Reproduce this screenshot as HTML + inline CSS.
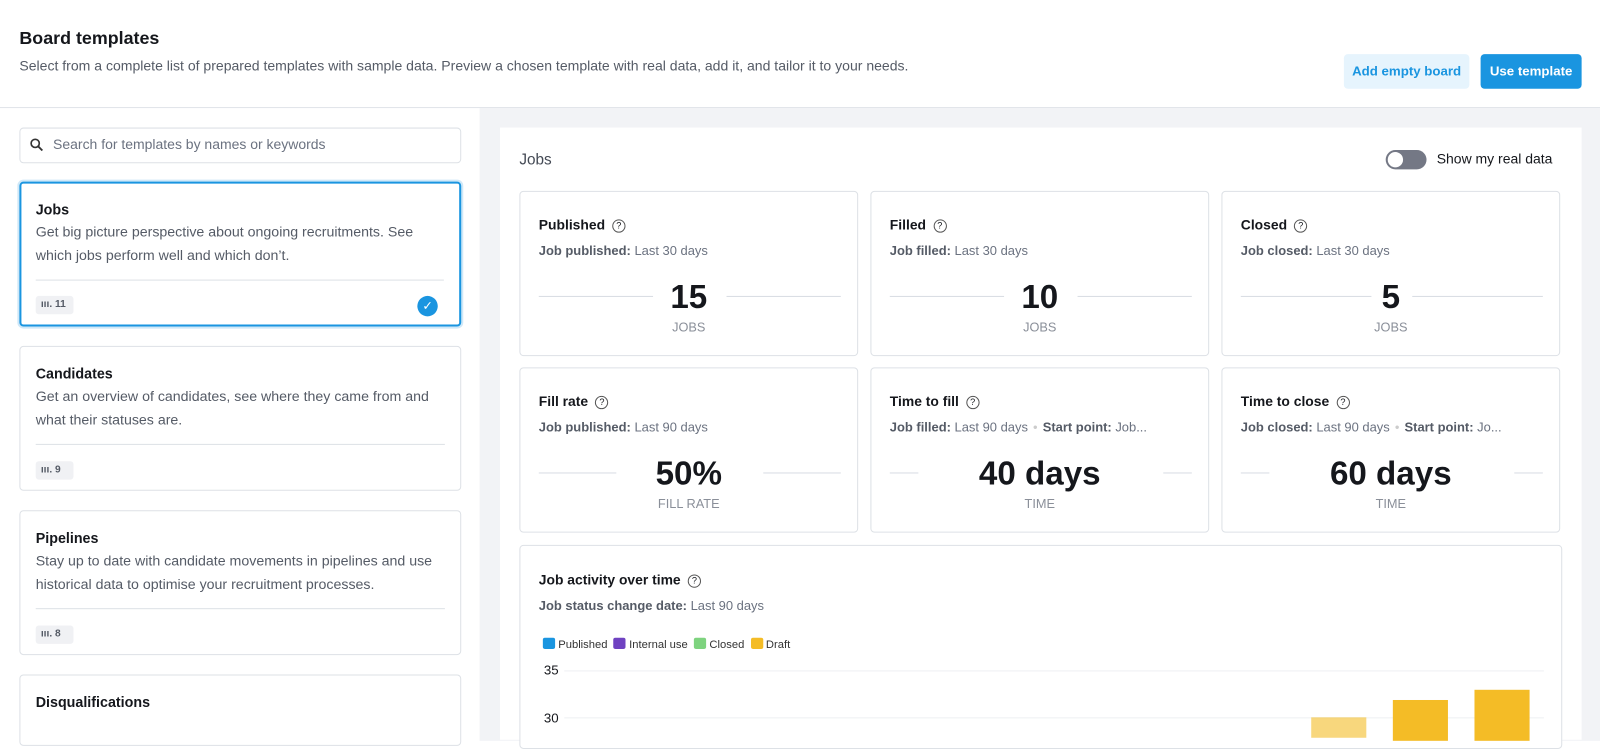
<!DOCTYPE html>
<html><head><meta charset="utf-8"><style>
*{box-sizing:border-box;margin:0;padding:0}
html,body{width:1600px;height:720px;overflow:hidden;background:#fff}
#w{position:absolute;left:0;top:0;width:1568px;height:706px;transform:scale(1.0204);transform-origin:0 0;font-family:"Liberation Sans",sans-serif;color:#15171c}
.a{position:absolute}
.hdr{left:0;top:0;width:1568px;height:106px;background:#fff;border-bottom:1px solid #dde1e6}
.btn{top:53px;height:34px;border-radius:4px;font-size:13px;font-weight:bold;line-height:34px;text-align:center}
.lp{left:0;top:106px;width:470px;height:620px;background:#fff}
.rp{left:470px;top:106px;width:1100px;height:620px;background:#f2f3f6}
.panel{left:490px;top:125px;width:1060px;height:600px;background:#fff}
.tc{left:19px;width:433px;height:142px;border:1px solid #dde1e6;border-radius:4px;background:#fff}
.tc h3{position:absolute;left:15px;top:18px;font-size:14px;font-weight:bold}
.tc p{position:absolute;left:15px;top:37px;width:405px;font-size:13.9px;line-height:23px;color:#555b66}
.tc .ln{position:absolute;left:15px;right:15px;top:95px;border-top:1px solid #dde1e6}
.tc .bd{position:absolute;left:15px;top:112px;width:37px;height:18px;background:#f0f1f4;border-radius:3px;font-size:10px;font-weight:bold;color:#555b66;line-height:18px;padding-left:5px}
.card{width:332px;height:162px;border:1px solid #dde1e6;border-radius:4px;background:#fff}
.card h4{position:absolute;left:18px;top:25px;font-size:13.6px;font-weight:bold}
.q{display:inline-block;width:13px;height:13px;border:1px solid #555;border-radius:50%;font-size:9px;text-align:center;line-height:11px;margin-left:7px;vertical-align:1px;font-weight:normal}
.card .s{position:absolute;left:18px;top:51px;font-size:12.7px;color:#6b7280;white-space:nowrap}
.card .s b{color:#555b66}
.card .v{position:absolute;left:0;right:0;top:85px;text-align:center;font-size:32.5px;font-weight:bold}
.card .u{position:absolute;left:0;right:0;top:126px;text-align:center;font-size:12.5px;color:#8a8f99}
.card .l1,.card .l2{position:absolute;top:102px;border-top:1px solid #d8dce3}
.dot{color:#ccc;margin:0 5px}
</style></head><body><div id="w">
<div class="a hdr"></div>
<div class="a" style="left:19px;top:27px;font-size:17.5px;font-weight:bold">Board templates</div>
<div class="a" style="left:19px;top:57px;font-size:13.75px;color:#555b66;white-space:nowrap">Select from a complete list of prepared templates with sample data. Preview a chosen template with real data, add it, and tailor it to your needs.</div>
<div class="a btn" style="left:1317px;width:123px;background:#e6f4fd;color:#1a95e0">Add empty board</div>
<div class="a btn" style="left:1451px;width:99px;background:#1a95e0;color:#fff">Use template</div>
<div class="a lp"></div>
<div class="a rp"></div>
<div class="a panel"></div>
<div class="a" style="left:19px;top:125px;width:433px;height:35px;border:1px solid #dde1e6;border-radius:4px"></div>
<svg class="a" style="left:29px;top:135px" width="14" height="14"><circle cx="5.5" cy="5.5" r="4" fill="none" stroke="#333" stroke-width="1.6"/><line x1="8.5" y1="8.5" x2="12.5" y2="12.5" stroke="#333" stroke-width="1.8"/></svg>
<div class="a" style="left:52px;top:134px;font-size:13.7px;color:#6b7280">Search for templates by names or keywords</div>

<div class="a tc" style="top:178px;border:2px solid #1a95e0;box-shadow:0 0 0 2px #cfe8f8"><h3 style="left:14px;top:17px">Jobs</h3><p style="left:14px;top:36px">Get big picture perspective about ongoing recruitments. See which jobs perform well and which don’t.</p><div class="ln" style="left:14px;top:94px"></div><div class="bd" style="left:14px;top:110px">ııı. 11</div><div style="position:absolute;left:388px;top:110px;width:20px;height:20px;border-radius:50%;background:#1a95e0;color:#fff;font-size:12px;text-align:center;line-height:20px">✓</div></div>
<div class="a tc" style="top:339px"><h3>Candidates</h3><p>Get an overview of candidates, see where they came from and what their statuses are.</p><div class="ln"></div><div class="bd">ııı. 9</div></div>
<div class="a tc" style="top:500px"><h3>Pipelines</h3><p>Stay up to date with candidate movements in pipelines and use historical data to optimise your recruitment processes.</p><div class="ln"></div><div class="bd">ııı. 8</div></div>
<div class="a tc" style="top:661px;height:70px"><h3>Disqualifications</h3></div>

<div class="a" style="left:509px;top:148px;font-size:15px;color:#444a55">Jobs</div>
<div class="a" style="left:1358px;top:147px;width:40px;height:19px;border-radius:10px;background:#747885"></div>
<div class="a" style="left:1360px;top:149px;width:15px;height:15px;border-radius:50%;background:#fff"></div>
<div class="a" style="left:1408px;top:148px;font-size:13.7px;color:#15171c">Show my real data</div>

<div class="a card" style="left:509px;top:187px"><h4>Published<span class="q">?</span></h4><div class="s"><b>Job published:</b> Last 30 days</div><div class="l1" style="left:18px;width:112px"></div><div class="l2" style="left:202px;width:112px"></div><div class="v">15</div><div class="u">JOBS</div></div>
<div class="a card" style="left:853px;top:187px"><h4>Filled<span class="q">?</span></h4><div class="s"><b>Job filled:</b> Last 30 days</div><div class="l1" style="left:18px;width:112px"></div><div class="l2" style="left:202px;width:112px"></div><div class="v">10</div><div class="u">JOBS</div></div>
<div class="a card" style="left:1197px;top:187px"><h4>Closed<span class="q">?</span></h4><div class="s"><b>Job closed:</b> Last 30 days</div><div class="l1" style="left:18px;width:128px"></div><div class="l2" style="left:186px;width:128px"></div><div class="v">5</div><div class="u">JOBS</div></div>
<div class="a card" style="left:509px;top:360px"><h4>Fill rate<span class="q">?</span></h4><div class="s"><b>Job published:</b> Last 90 days</div><div class="l1" style="left:18px;width:76px"></div><div class="l2" style="left:238px;width:76px"></div><div class="v">50%</div><div class="u">FILL RATE</div></div>
<div class="a card" style="left:853px;top:360px"><h4>Time to fill<span class="q">?</span></h4><div class="s"><b>Job filled:</b> Last 90 days<span class="dot">•</span><b>Start point:</b> Job...</div><div class="l1" style="left:18px;width:28px"></div><div class="l2" style="left:286px;width:28px"></div><div class="v">40 days</div><div class="u">TIME</div></div>
<div class="a card" style="left:1197px;top:360px"><h4>Time to close<span class="q">?</span></h4><div class="s"><b>Job closed:</b> Last 90 days<span class="dot">•</span><b>Start point:</b> Jo...</div><div class="l1" style="left:18px;width:28px"></div><div class="l2" style="left:286px;width:28px"></div><div class="v">60 days</div><div class="u">TIME</div></div>

<div class="a" style="left:509px;top:534px;width:1022px;height:200px;border:1px solid #dde1e6;border-radius:4px;background:#fff"></div>
<div class="a" style="left:528px;top:561px;font-size:13.6px;font-weight:bold">Job activity over time<span class="q">?</span></div>
<div class="a" style="left:528px;top:587px;font-size:12.7px;color:#6b7280"><b style="color:#555b66">Job status change date:</b> Last 90 days</div>
<div class="a" style="left:532px;top:625px;font-size:11px;color:#333;white-space:nowrap">
<span style="display:inline-block;width:12px;height:11px;border-radius:2px;background:#1a95e0;vertical-align:-1px"></span> Published&nbsp;
<span style="display:inline-block;width:12px;height:11px;border-radius:2px;background:#6f42c1;vertical-align:-1px"></span> Internal use&nbsp;
<span style="display:inline-block;width:12px;height:11px;border-radius:2px;background:#7ed37f;vertical-align:-1px"></span> Closed&nbsp;
<span style="display:inline-block;width:12px;height:11px;border-radius:2px;background:#f4bc26;vertical-align:-1px"></span> Draft</div>
<div class="a" style="left:533px;top:649px;font-size:13px">35</div>
<div class="a" style="left:533px;top:696px;font-size:13px">30</div>
<div class="a" style="left:553px;top:657px;width:960px;border-top:1px solid #eef0f3"></div>
<div class="a" style="left:553px;top:703px;width:960px;border-top:1px solid #eef0f3"></div>
<div class="a" style="left:1285px;top:703px;width:54px;height:20px;background:#f4bc26;opacity:.6"></div>
<div class="a" style="left:1365px;top:686px;width:54px;height:40px;background:#f4bc26"></div>
<div class="a" style="left:1445px;top:676px;width:54px;height:50px;background:#f4bc26"></div>
</div></body></html>
